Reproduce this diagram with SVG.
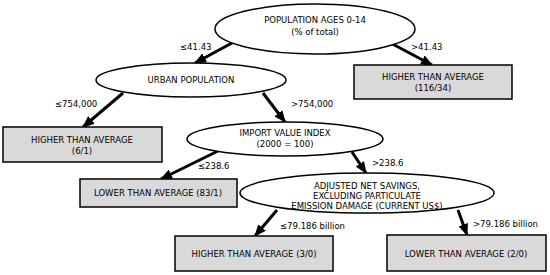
<svg xmlns="http://www.w3.org/2000/svg" width="550" height="275" viewBox="0 0 550 275">
<style>
.oval{fill:#fff;stroke:#000;stroke-width:1.5}
.box{fill:#d9d9d9;stroke:#000;stroke-width:1.5}
text{font-family:"DejaVu Sans",Verdana,sans-serif;font-size:8.5px;fill:#000}
.c{text-anchor:middle}
.edge{stroke:#000;stroke-width:3;fill:none;marker-end:url(#arr)}
</style>
<defs>
<marker id="arr" markerUnits="userSpaceOnUse" markerWidth="12" markerHeight="10" viewBox="0 0 12 10" refX="11" refY="5" orient="auto">
<path d="M0,0 L12,5 L0,10 Z" fill="#000"/>
</marker>
</defs>
<g id="connectors">
<line class="edge" x1="243" y1="37" x2="195" y2="63"/>
<line class="edge" x1="385" y1="40" x2="432" y2="65"/>
<line class="edge" x1="123" y1="93" x2="83" y2="127"/>
<line class="edge" x1="263" y1="93" x2="285" y2="122"/>
<line class="edge" x1="218" y1="151" x2="161" y2="179"/>
<line class="edge" x1="352" y1="152" x2="366" y2="173"/>
<line class="edge" x1="277" y1="210" x2="255" y2="236"/>
<line class="edge" x1="458" y1="210" x2="467" y2="235"/>
<text x="180" y="50">≤41.43</text>
<text x="411" y="50">&gt;41.43</text>
<text x="55" y="107">≤754,000</text>
<text x="291" y="107">&gt;754,000</text>
<text x="198" y="169">≤238.6</text>
<text x="372" y="166">&gt;238.6</text>
<text x="280" y="229">≤79.186 billion</text>
<text x="473" y="227">&gt;79.186 billion</text>
</g>
<g id="n-root">
<ellipse class="oval" cx="315" cy="29" rx="100" ry="25"/>
<text class="c" x="315" y="23">POPULATION AGES 0-14</text>
<text class="c" x="315" y="35">(% of total)</text>
</g>
<g id="n-high-116">
<rect class="box" x="354" y="65" width="158" height="34"/>
<text class="c" x="433" y="80">HIGHER THAN AVERAGE</text>
<text class="c" x="433" y="91">(116/34)</text>
</g>
<g id="n-urban">
<ellipse class="oval" cx="191" cy="80" rx="95" ry="17"/>
<text class="c" x="191" y="83">URBAN POPULATION</text>
</g>
<g id="n-high-6">
<rect class="box" x="3" y="127" width="159" height="35"/>
<text class="c" x="82" y="143">HIGHER THAN AVERAGE</text>
<text class="c" x="82" y="154">(6/1)</text>
</g>
<g id="n-import">
<ellipse class="oval" cx="285" cy="139" rx="98" ry="17"/>
<text class="c" x="285" y="136">IMPORT VALUE INDEX</text>
<text class="c" x="285" y="147">(2000 = 100)</text>
</g>
<g id="n-low-83">
<rect class="box" x="80" y="179" width="157" height="28"/>
<text class="c" x="158" y="196">LOWER THAN AVERAGE (83/1)</text>
</g>
<g id="n-adjusted">
<ellipse class="oval" cx="367" cy="193" rx="127" ry="20"/>
<text class="c" x="367" y="189">ADJUSTED NET SAVINGS,</text>
<text class="c" x="367" y="199">EXCLUDING PARTICULATE</text>
<text class="c" x="367" y="209">EMISSION DAMAGE (CURRENT US$)</text>
</g>
<g id="n-high-3">
<rect class="box" x="175" y="236" width="158" height="35"/>
<text class="c" x="254" y="257">HIGHER THAN AVERAGE (3/0)</text>
</g>
<g id="n-low-2">
<rect class="box" x="387" y="235" width="159" height="36"/>
<text class="c" x="466" y="257">LOWER THAN AVERAGE (2/0)</text>
</g>
</svg>
